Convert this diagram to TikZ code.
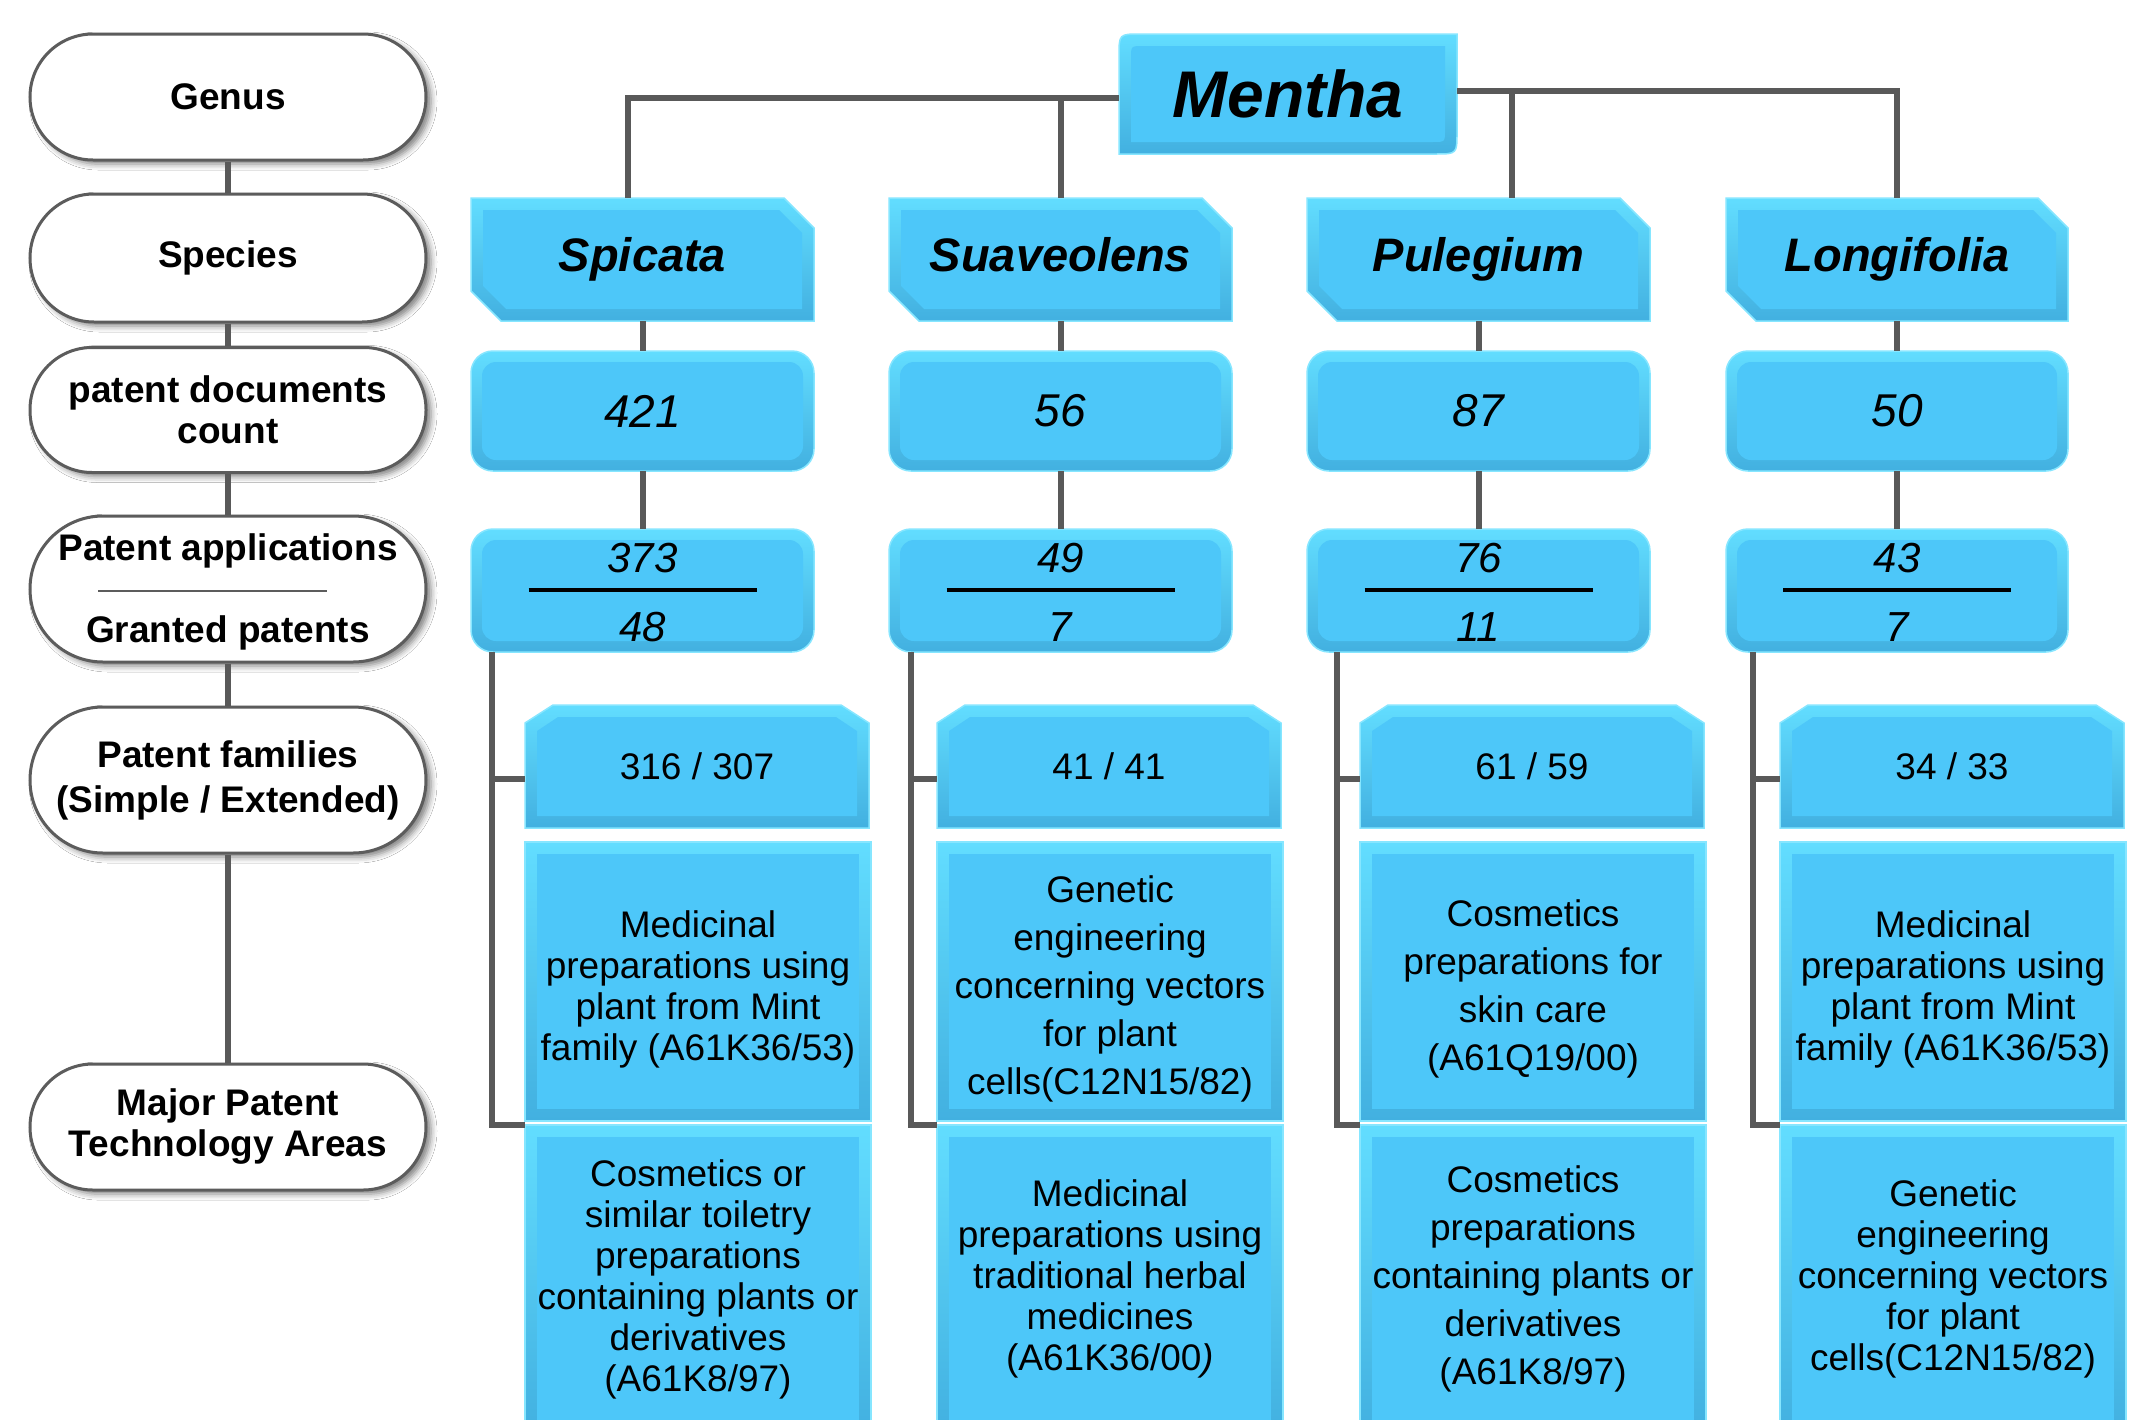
\documentclass[tikz,border=0pt]{standalone}
\usepackage{fontspec}
\setmainfont{Liberation Sans}
\usetikzlibrary{calc,shadows.blur}
\definecolor{bmain}{HTML}{4DC7F9}
\definecolor{btop}{HTML}{62DDFF}
\definecolor{bbot}{HTML}{42B0E0}
\definecolor{bedge}{HTML}{86E6FF}
\definecolor{conncol}{HTML}{595959}
\definecolor{pillline}{HTML}{5C5C5C}

\newcommand\pillfont{\fontsize{37}{41}\selectfont\bfseries}
\newcommand\spfont{\fontsize{47}{52}\selectfont\bfseries\itshape}
\newcommand\menfont{\fontsize{66}{72}\selectfont\bfseries\itshape}
\newcommand\cntfont{\fontsize{46}{50}\selectfont\itshape}
\newcommand\ratfont{\fontsize{42}{46}\selectfont\itshape}
\newcommand\famfont{\fontsize{37}{41}\selectfont}
\newcommand\techfont{\fontsize{37}{41}\selectfont}
\newcommand\techfontw{\fontsize{37}{48}\selectfont}

\tikzset{
 conn/.style={draw=conncol,line width=6pt},
 pill/.style={draw=pillline,line width=3pt,fill=white,minimum width=396pt,inner sep=0pt,align=center,font=\pillfont,
   blur shadow={shadow xshift=5pt,shadow yshift=-4pt,shadow blur radius=6pt,shadow opacity=50}},
 boxnode/.style={inner sep=0pt,align=center},
 bevout/.style={top color=btop,bottom color=bbot,draw=bedge,line width=1.5pt},
 bevin/.style={fill=bmain},
 txt/.style={inner sep=0pt,align=center},
}

% name, x1, y1, x2, y2, node options, text
\newcommand\rectbox[7]{%
 \path[bevout] (#2,#3) rectangle (#4,#5);
 \fill[bevin] ({#2+12},{#3+12}) rectangle ({#4-12},{#5-12});
 \node[boxnode,#6,minimum width={#4-#2},minimum height={#5-#3}] (#1) at ({(#2+#4)/2},{(#3+#5)/2}) {#7};}
\newcommand\roundbox[7]{%
 \path[bevout,rounded corners=22pt] (#2,#3) rectangle (#4,#5);
 \fill[bevin,rounded corners=14pt] ({#2+11},{#3+11}) rectangle ({#4-11},{#5-11});
 \node[boxnode,#6,minimum width={#4-#2},minimum height={#5-#3}] (#1) at ({(#2+#4)/2},{(#3+#5)/2}) {#7};}
\newcommand\snipbox[7]{%
 \path[bevout] (#2,#3) -- ({#4-30},#3) -- (#4,{#3+30}) -- (#4,#5) -- ({#2+30},#5) -- (#2,{#5-30}) -- cycle;
 \fill[bevin] ({#2+12},{#3+12}) -- ({#4-35},{#3+12}) -- ({#4-12},{#3+35}) -- ({#4-12},{#5-12}) -- ({#2+35},{#5-12}) -- ({#2+12},{#5-35}) -- cycle;
 \node[boxnode,#6,minimum width={#4-#2},minimum height={#5-#3}] (#1) at ({(#2+#4)/2},{(#3+#5)/2}) {\vphantom{Spg}#7};}
\newcommand\fambox[7]{%
 \path[bevout] (#2,{#3+18}) -- ({#2+28},#3) -- ({#4-28},#3) -- (#4,{#3+18}) -- (#4,#5) -- (#2,#5) -- cycle;
 \fill[bevin] ({#2+12},{#3+26}) -- ({#2+33},{#3+12}) -- ({#4-33},{#3+12}) -- ({#4-12},{#3+26}) -- ({#4-12},{#5-12}) -- ({#2+12},{#5-12}) -- cycle;
 \node[boxnode,#6,minimum width={#4-#2},minimum height={#5-#3}] (#1) at ({(#2+#4)/2},{(#3+#5)/2}) {#7};}
\newcommand\menbox[7]{%
 \path[bevout] (#2,#5) -- (#2,{#3+22}) .. controls (#2,#3) .. ({#2+22},#3) -- (#4,#3) -- (#4,{#5-22}) .. controls (#4,#5) .. ({#4-22},#5) -- cycle;
 \fill[bevin] ({#2+12},{#5-12}) -- ({#2+12},{#3+24}) .. controls ({#2+12},{#3+12}) .. ({#2+24},{#3+12}) -- ({#4-12},{#3+12}) -- ({#4-12},{#5-24}) .. controls ({#4-12},{#5-12}) .. ({#4-24},{#5-12}) -- cycle;
 \node[boxnode,#6,minimum width={#4-#2},minimum height={#5-#3}] (#1) at ({(#2+#4)/2},{(#3+#5)/2}) {#7};}

\begin{document}
\begin{tikzpicture}[x=1pt,y=-1pt]
\path[use as bounding box] (0,0) rectangle (2139,1419);
\clip (0,0) rectangle (2139,1419);
\fill[white] (0,0) rectangle (2139,1419);

% ---- left legend column ----
\node[pill,minimum height=126pt,rounded corners=63pt] (p1) at (228,97) {Genus};
\node[pill,minimum height=128pt,rounded corners=64pt] (p2) at (228,258) {Species};
\node[pill,minimum height=125pt,rounded corners=62pt] (p3) at (228,410) {patent documents\\count};
\node[pill,minimum height=146pt,rounded corners=73pt] (p4) at (228,589) {};
\node[pill,minimum height=146pt,rounded corners=73pt] (p5) at (228,780) {Patent families\\[4pt](Simple / Extended)};
\node[pill,minimum height=126pt,rounded corners=63pt] (p6) at (228,1127) {Major Patent\\Technology Areas};
\node[txt,font=\pillfont,anchor=base] (p4a) at (228,560) {Patent applications};
\node[txt,font=\pillfont,anchor=base] (p4b) at (228,642) {Granted patents};
\draw[pillline,line width=2pt] ($(p4.center)+(-130,2)$) -- ($(p4.center)+(99,2)$);

\draw[conn] (p1.south) -- (p2.north);
\draw[conn] (p2.south) -- (p3.north);
\draw[conn] (p3.south) -- (p4.north);
\draw[conn] (p4.south) -- (p5.north);
\draw[conn] (p5.south) -- (p6.north);

% ---- genus ----
\menbox{m}{1119}{34}{1457}{154}{font=\menfont}{Mentha}

% ---- species ----
\snipbox{s1}{471}{198}{814}{321}{font=\spfont}{Spicata}
\snipbox{s2}{889}{198}{1232}{321}{font=\spfont}{Suaveolens}
\snipbox{s3}{1307}{198}{1650}{321}{font=\spfont}{Pulegium}
\snipbox{s4}{1726}{198}{2068}{321}{font=\spfont}{Longifolia}

% ---- counts ----
\roundbox{c1}{471}{351}{814}{471}{font=\cntfont}{421}
\roundbox{c2}{889}{351}{1232}{471}{font=\cntfont}{56}
\roundbox{c3}{1307}{351}{1650}{471}{font=\cntfont}{87}
\roundbox{c4}{1726}{351}{2068}{471}{font=\cntfont}{50}

% ---- applications / granted ----
\roundbox{r1}{471}{529}{814}{652}{font=\ratfont}{}
\roundbox{r2}{889}{529}{1232}{652}{font=\ratfont}{}
\roundbox{r3}{1307}{529}{1650}{652}{font=\ratfont}{}
\roundbox{r4}{1726}{529}{2068}{652}{font=\ratfont}{}
\foreach \r/\a/\b in {r1/373/48, r2/49/7, r3/76/11, r4/43/7}{
  \node[txt,font=\ratfont,anchor=base] (\r a) at ($(\r.center)+(0,-18)$) {\a};
  \node[txt,font=\ratfont,anchor=base] (\r b) at ($(\r.center)+(0,51)$) {\b};
  \draw[black,line width=4pt] ($(\r.center)+(-114,-1)$) -- ($(\r.center)+(114,-1)$);
}

% ---- families ----
\fambox{f1}{525}{705}{869}{828}{font=\famfont}{316 / 307}
\fambox{f2}{937}{705}{1281}{828}{font=\famfont}{41 / 41}
\fambox{f3}{1360}{705}{1704}{828}{font=\famfont}{61 / 59}
\fambox{f4}{1780}{705}{2124}{828}{font=\famfont}{34 / 33}

% ---- technology areas ----
\rectbox{t1}{525}{842}{871}{1121}{font=\techfont,yshift=-8pt}{Medicinal\\preparations using\\plant from Mint\\family (A61K36/53)}
\rectbox{t2}{937}{842}{1283}{1121}{font=\techfontw,yshift=-7pt}{Genetic\\engineering\\concerning vectors\\for plant\\cells(C12N15/82)}
\rectbox{t3}{1360}{842}{1706}{1121}{font=\techfontw,yshift=-7pt}{Cosmetics\\preparations for\\skin care\\(A61Q19/00)}
\rectbox{t4}{1780}{842}{2126}{1121}{font=\techfont,yshift=-8pt}{Medicinal\\preparations using\\plant from Mint\\family (A61K36/53)}

\rectbox{tb1}{525}{1125}{871}{1433}{font=\techfont}{Cosmetics or\\similar toiletry\\preparations\\containing plants or\\derivatives\\(A61K8/97)}
\rectbox{tb2}{937}{1125}{1283}{1433}{font=\techfont}{Medicinal\\preparations using\\traditional herbal\\medicines\\(A61K36/00\textit{)}}
\rectbox{tb3}{1360}{1125}{1706}{1433}{font=\techfontw}{Cosmetics\\preparations\\containing plants or\\derivatives\\(A61K8/97)}
\rectbox{tb4}{1780}{1125}{2126}{1433}{font=\techfont}{Genetic\\engineering\\concerning vectors\\for plant\\cells(C12N15/82)}

% ---- connectors ----
\coordinate (mL) at ($(m.west)+(0,4)$);
\coordinate (mR) at ($(m.east)+(0,-3)$);
\draw[conn] (mL) -| ($(s1.north)+(-15,0)$);
\draw[conn] (mL) -| (s2.north);
\draw[conn] (mR) -| ($(s3.north)+(33,0)$);
\draw[conn] (mR) -| (s4.north);

\foreach \i in {1,2,3,4}{
  \draw[conn] (s\i.south) -- (c\i.north);
  \draw[conn] (c\i.south) -- (r\i.north);
}

\foreach \i/\dx in {1/21, 2/22, 3/30, 4/27}{
  \coordinate (v\i) at ($(r\i.south west)+(\dx,0)$);
  \coordinate (h\i) at ($(f\i.west)+(0,12)$);
  \draw[conn] (v\i) |- (tb\i.north west);
  \draw[conn] (v\i |- h\i) -- (h\i);
}
\end{tikzpicture}
\end{document}
